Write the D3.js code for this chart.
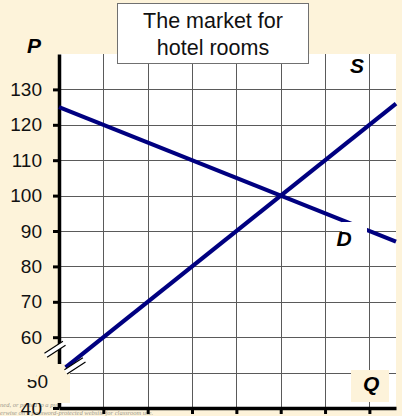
<!DOCTYPE html>
<html>
<head>
<meta charset="utf-8">
<script src="https://cdn.jsdelivr.net/npm/d3@7"></script>
<style>
  body { margin: 0; background: #fdf3da; }
  svg { display: block; font-family: Arial, "Liberation Sans", sans-serif; }
</style>
</head>
<body>
<div id="chart"></div>
<script>
// price axis ticks and quantity gridlines
const priceTicks = [40, 50, 60, 70, 80, 90, 100, 110, 120, 130];
const quantityTicks = [1, 2, 3, 4, 5, 6, 7];

// demand and supply curves (quantity in grid units, price)
const demandQ = [0, 7.6];
const demandP = [125, 87];
const supplyQ = [0.15, 7.6];
const supplyP = [51.5, 126];

const width = 402, height = 416;
const cream = "#fdf3da";
const navy = "#000080";

const x = d3.scaleLinear().domain([0, 7.6]).range([59, 396]);
const y = d3.scaleLinear().domain([40, 140]).range([408, 54]);

const svg = d3.select("#chart").append("svg")
  .attr("width", width)
  .attr("height", height);

svg.append("rect").attr("width", width).attr("height", height).attr("fill", cream);

// faint watermark text behind the plot
const wm = svg.append("g")
  .style("font-family", "'Liberation Serif', serif")
  .style("font-style", "italic")
  .style("font-size", "6.5px")
  .attr("fill", "#a09a8e");
wm.append("text").attr("x", 0).attr("y", 407).text("ned, or posted to a publicly accessible website, in whole or in part.");
wm.append("text").attr("x", 0).attr("y", 415).text("erwise on a password-protected website for classroom use.");

// plot area
svg.append("rect")
  .attr("x", x(0)).attr("y", y(140))
  .attr("width", x(7.6) - x(0)).attr("height", y(40) - y(140))
  .attr("fill", "white");

// gridlines
const grid = svg.append("g").attr("stroke", "#5a5a5a").attr("stroke-width", 1);
grid.selectAll("line.h")
  .data(priceTicks.filter((d) => d > 40))
  .join("line")
  .attr("x1", x(0)).attr("x2", x(7.6))
  .attr("y1", (d) => Math.round(y(d)) + 0.5).attr("y2", (d) => Math.round(y(d)) + 0.5);
grid.selectAll("line.v")
  .data(quantityTicks)
  .join("line")
  .attr("y1", y(140)).attr("y2", y(40))
  .attr("x1", (d) => Math.round(x(d)) + 0.5).attr("x2", (d) => Math.round(x(d)) + 0.5);

// axes
const yAxis = svg.append("g")
  .attr("transform", `translate(${x(0)},0)`)
  .call(d3.axisLeft(y).tickValues(priceTicks).tickSize(6).tickSizeOuter(0).tickPadding(11));
yAxis.select(".domain").attr("stroke", "black").attr("stroke-width", 3.5);
yAxis.selectAll(".tick line").attr("stroke", "black").attr("stroke-width", 3);
yAxis.selectAll(".tick text")
  .attr("fill", "#111")
  .style("font-size", "19px")
  .style("font-family", "Arial, 'Liberation Sans', sans-serif");

const xAxis = svg.append("g")
  .attr("transform", `translate(0,${y(40)})`)
  .call(d3.axisBottom(x).tickValues(quantityTicks).tickSize(6).tickSizeOuter(0).tickFormat(""));
xAxis.select(".domain").attr("stroke", "black").attr("stroke-width", 3.5);
xAxis.selectAll(".tick line").attr("stroke", "black").attr("stroke-width", 3);

// axis break: cream patch over the lower part of the price axis
svg.append("rect")
  .attr("x", 0).attr("y", 364)
  .attr("width", 70).attr("height", 39)
  .attr("fill", cream);

// partly hidden "50" label
const defs = svg.append("defs");
const clip = defs.append("clipPath").attr("id", "lbl50");
clip.append("rect").attr("x", 36).attr("y", 360).attr("width", 20).attr("height", 40);
clip.append("rect").attr("x", 0).attr("y", 379).attr("width", 36).attr("height", 20);
svg.append("text")
  .attr("clip-path", "url(#lbl50)")
  .attr("x", 48).attr("y", y(50) + 15)
  .attr("text-anchor", "end")
  .attr("fill", "#111")
  .style("font-size", "19px")
  .text("50");

// curves
const line = d3.line().x((d) => x(d[0])).y((d) => y(d[1]));
svg.append("path")
  .datum(d3.zip(demandQ, demandP))
  .attr("d", line)
  .attr("fill", "none").attr("stroke", navy).attr("stroke-width", 4.2);
svg.append("path")
  .datum(d3.zip(supplyQ, supplyP))
  .attr("d", line)
  .attr("fill", "none").attr("stroke", navy).attr("stroke-width", 4.2);

// break marks "//"
const breakMark = (cx, cy) => {
  const ux = 0.839, uy = -0.545, half = 11;
  const g = svg.append("g");
  g.append("line")
    .attr("x1", cx - ux * half).attr("y1", cy - uy * half)
    .attr("x2", cx + ux * half).attr("y2", cy + uy * half)
    .attr("stroke", "white").attr("stroke-width", 5);
  [-2.4, 2.4].forEach((o) => {
    g.append("line")
      .attr("x1", cx - ux * half + 0.545 * o).attr("y1", cy - uy * half + 0.839 * o)
      .attr("x2", cx + ux * half + 0.545 * o).attr("y2", cy + uy * half + 0.839 * o)
      .attr("stroke", "black").attr("stroke-width", 1.2);
  });
};
breakMark(x(0) - 4, y(56.6));
breakMark(x(0.36), y(51.9));

// curve labels
const lab = (t, px, py) =>
  svg.append("text")
    .attr("x", x(px)).attr("y", y(py))
    .attr("text-anchor", "middle")
    .style("font-size", "21px")
    .style("font-weight", "bold")
    .style("font-style", "italic")
    .attr("fill", "black")
    .text(t);

// white patch behind D
svg.append("rect")
  .attr("x", 342).attr("y", 222).attr("width", 25).attr("height", 28)
  .attr("fill", "white");
lab("D", 6.43, 85.7);
lab("S", 6.72, 134.6);

// cream box behind Q
svg.append("rect")
  .attr("x", 351).attr("y", 370).attr("width", 38).attr("height", 32)
  .attr("fill", cream);
lab("Q", 7.04, 44.7);

// P axis title
svg.append("text")
  .attr("x", 27).attr("y", 53)
  .style("font-size", "21px")
  .style("font-weight", "bold")
  .style("font-style", "italic")
  .text("P");

// title box
svg.append("rect")
  .attr("x", 117.5).attr("y", 3.5).attr("width", 191).attr("height", 60)
  .attr("fill", "white").attr("stroke", "#707070").attr("stroke-width", 1);
const title = svg.append("text")
  .attr("text-anchor", "middle")
  .style("font-size", "21.5px")
  .attr("fill", "#111");
title.append("tspan").attr("x", 213).attr("y", 28).text("The market for");
title.append("tspan").attr("x", 213).attr("y", 55).text("hotel rooms");
</script>
</body>
</html>
